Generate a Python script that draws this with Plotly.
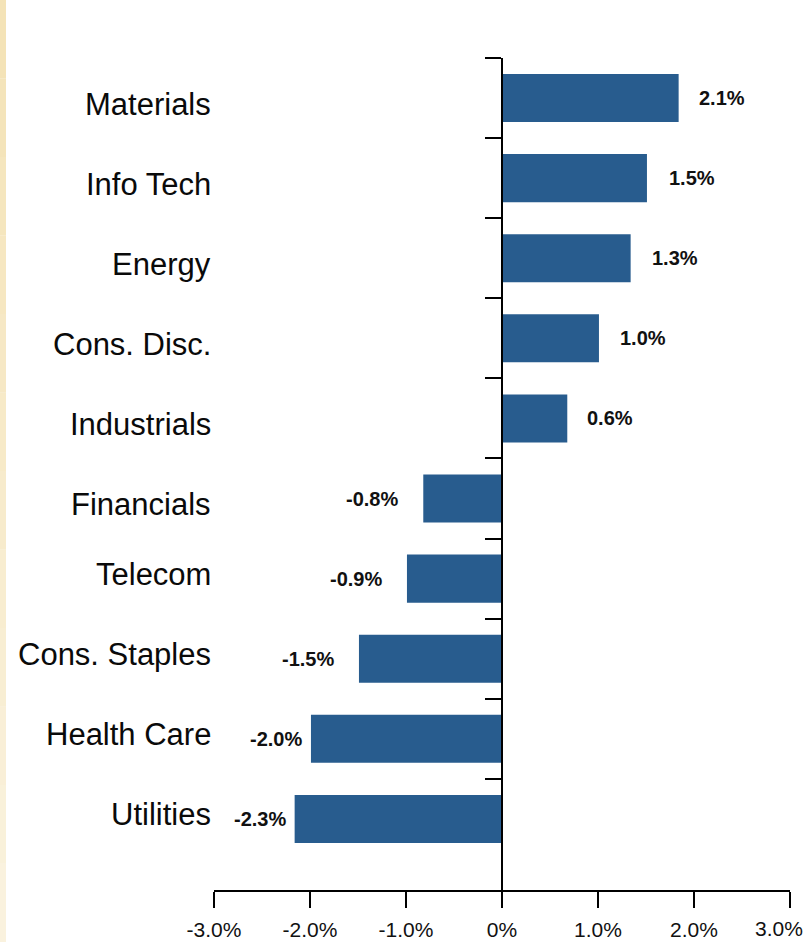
import plotly.graph_objects as go

# Data (bottom to top)
categories = ["Utilities", "Health Care", "Cons. Staples", "Telecom", "Financials",
              "Industrials", "Cons. Disc.", "Energy", "Info Tech", "Materials"]
bar_values = [-2.16, -1.99, -1.49, -0.99, -0.82, 0.68, 1.01, 1.34, 1.51, 1.84]
value_labels = ["-2.3%", "-2.0%", "-1.5%", "-0.9%", "-0.8%", "0.6%", "1.0%", "1.3%", "1.5%", "2.1%"]
x_tick_vals = [-3, -2, -1, 0, 1, 2, 3]
x_tick_text = ["-3.0%", "-2.0%", "-1.0%", "0%", "1.0%", "2.0%", "3.0%"]

# style-only offsets (pixels)
label_xshift = [7, 7, 23, 23, 23, 18, 19, 19, 20, 18]
cat_yshift = [4, 4, 4, 4, -6, -6, -6, -6, -6, -6]

W, H = 810, 942
ML, MR, MT, MB = 214, 20, 58, 52
plot_w = W - ML - MR
plot_h = H - MT - MB

ypos = list(range(len(categories)))
BAR = "#285C8E"
FONT = "Liberation Sans, Arial, sans-serif"
TICK_FONT = dict(family=FONT, size=21, color="#111111")

# the last tick label is drawn as an annotation so that it stays inside the page
tick_text_display = list(x_tick_text[:-1]) + [""]

fig = go.Figure()
fig.add_trace(go.Bar(
    x=bar_values, y=ypos, orientation="h", width=0.6,
    marker=dict(color=BAR, line=dict(width=0)),
    hoverinfo="skip", showlegend=False,
))

annotations = []
for i, (v, lab) in enumerate(zip(bar_values, value_labels)):
    annotations.append(dict(
        x=v, y=i, xref="x", yref="y", text="<b>" + lab + "</b>", showarrow=False,
        xanchor="left" if v > 0 else "right",
        xshift=label_xshift[i] if v > 0 else -label_xshift[i],
        font=dict(family=FONT, size=20, color="#111111"),
    ))

for i, c in enumerate(categories):
    annotations.append(dict(
        x=(213 - ML) / plot_w, y=i, xref="paper", yref="y", text=c, showarrow=False,
        xanchor="right", yanchor="middle", yshift=cat_yshift[i],
        font=dict(family=FONT, size=31, color="#0a0a0a"),
    ))

annotations.append(dict(
    x=x_tick_vals[-1], xref="x", y=0, yref="paper", text=x_tick_text[-1], showarrow=False,
    xanchor="right", yanchor="top", xshift=15, yshift=-25,
    font=TICK_FONT,
))

# left decorative gradient strip
shapes = []
n = 12
shape_top = 1 + MT / plot_h
shape_bot = -MB / plot_h
for k in range(n):
    t0 = shape_top - (shape_top - shape_bot) * k / n
    t1 = shape_top - (shape_top - shape_bot) * (k + 1) / n
    shapes.append(dict(
        type="rect", xref="paper", yref="paper",
        x0=(0 - ML) / plot_w, x1=(6 - ML) / plot_w, y0=t1, y1=t0,
        fillcolor="#F2DEAA", opacity=0.85 - 0.5 * k / n, line=dict(width=0), layer="below",
    ))

fig.update_layout(
    width=W, height=H,
    margin=dict(l=ML, r=MR, t=MT, b=MB, autoexpand=False),
    paper_bgcolor="white", plot_bgcolor="white",
    xaxis=dict(
        range=[-3, 3], tickvals=x_tick_vals, ticktext=tick_text_display,
        showline=True, linecolor="black", linewidth=2,
        ticks="outside", ticklen=16, tickwidth=2, tickcolor="black",
        showgrid=False, zeroline=False, automargin=False,
        ticklabeloverflow="allow",
        tickfont=TICK_FONT,
        ticklabelstandoff=4,
    ),
    yaxis=dict(
        range=[-0.8875, 9.5], anchor="free", position=0.5,
        tickvals=[i + 0.5 for i in range(len(categories))],
        showticklabels=False, automargin=False,
        showline=True, linecolor="black", linewidth=2,
        ticks="outside", ticklen=16, tickwidth=2, tickcolor="black",
        showgrid=False, zeroline=False,
    ),
    annotations=annotations,
    shapes=shapes,
)

fig.write_html("out.html")
